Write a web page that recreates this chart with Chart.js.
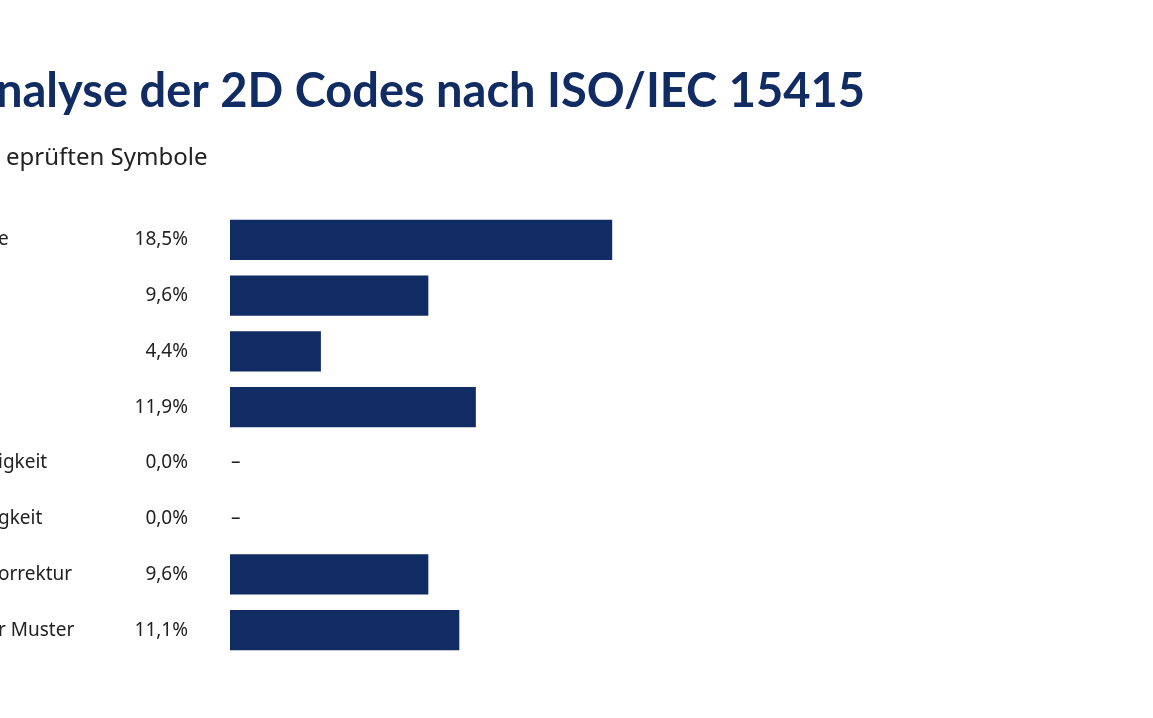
<!DOCTYPE html>
<html>
<head>
<meta charset="utf-8">
<script src="https://cdn.jsdelivr.net/npm/chart.js@4"></script>
<style>
  html, body { margin: 0; padding: 0; background: #fff; }
  #wrap { width: 1153px; height: 718px; position: relative; }
</style>
</head>
<body>
<div id="wrap"><canvas id="grafico"></canvas></div>
<script>
const titel = 'nalyse der 2D Codes nach ISO/IEC 15415';
const untertitel = 'eprüften Symbole';
const kategorien = ['e', '', '', '', 'igkeit', 'gkeit', 'orrektur', 'r Muster'];
const werte = [18.5, 9.6, 4.4, 11.9, 0.0, 0.0, 9.6, 11.1];
const werteText = ['18,5%', '9,6%', '4,4%', '11,9%', '0,0%', '0,0%', '9,6%', '11,1%'];

const blau = '#112b63';

// Titel, Beschriftungen und Prozentwerte
const textPlugin = {
  id: 'texte',
  afterDraw(chart) {
    const ctx = chart.ctx;
    const y = chart.scales.y;
    const x = chart.scales.x;
    ctx.save();
    ctx.fillStyle = blau;
    ctx.font = 'bold 47px Lato, "Noto Sans", sans-serif';
    ctx.textBaseline = 'alphabetic';
    ctx.textAlign = 'left';
    ctx.fillText(titel, -4, 107);
    ctx.fillStyle = '#222';
    ctx.font = '24px "Noto Sans", sans-serif';
    ctx.fillText(untertitel, 6, 165);

    ctx.font = '19px "Noto Sans", sans-serif';
    ctx.textBaseline = 'middle';
    kategorien.forEach((k, i) => {
      const py = y.getPixelForValue(i);
      ctx.fillStyle = '#222';
      ctx.textAlign = 'left';
      ctx.fillText(k, -2, py);
      ctx.textAlign = 'right';
      ctx.fillText(werteText[i], 188, py);
      if (werte[i] === 0) {
        ctx.textAlign = 'left';
        ctx.fillText('–', x.getPixelForValue(0) + 1, py);
      }
    });
    ctx.restore();
  }
};

new Chart(document.getElementById('grafico'), {
  type: 'bar',
  data: {
    labels: kategorien,
    datasets: [{
      data: werte,
      backgroundColor: blau,
      barPercentage: 0.72,
      categoryPercentage: 1
    }]
  },
  options: {
    indexAxis: 'y',
    responsive: true,
    maintainAspectRatio: false,
    animation: false,
    layout: { padding: { left: 230, right: 14, top: 212, bottom: 60 } },
    plugins: { legend: { display: false }, tooltip: { enabled: false } },
    scales: {
      x: { display: false, min: 0, max: 44 },
      y: { display: false }
    }
  },
  plugins: [textPlugin]
});
</script>
</body>
</html>
